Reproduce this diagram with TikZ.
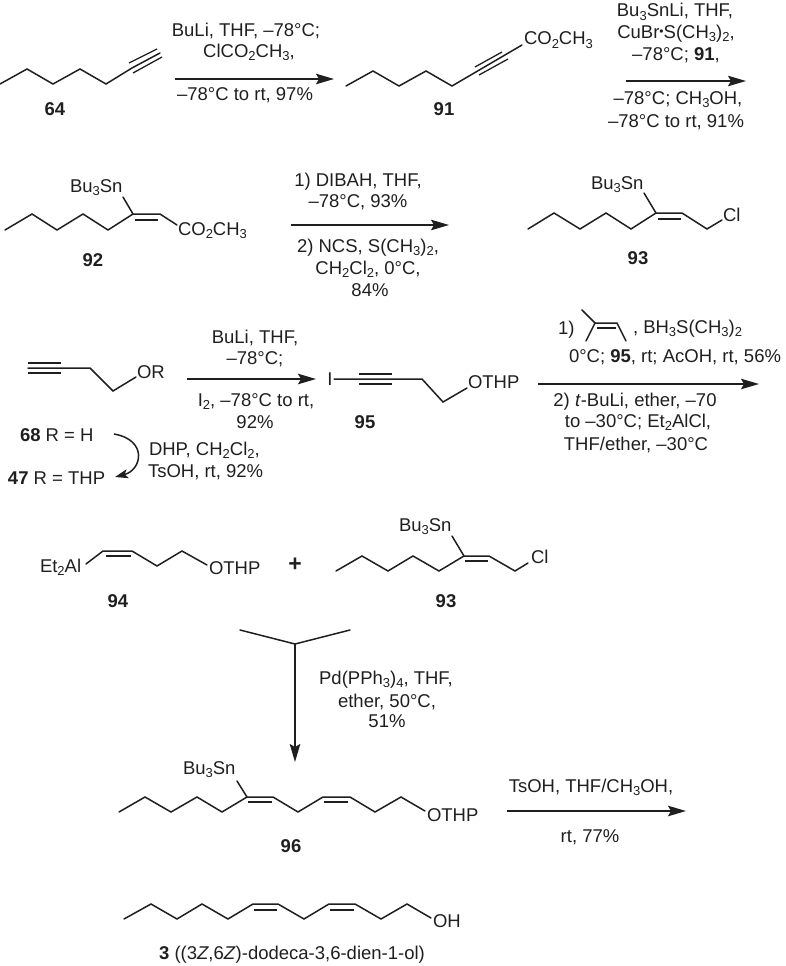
\documentclass[tikz,border=0pt]{standalone}
\usepackage{fontspec}
\setmainfont{Liberation Sans}
\usetikzlibrary{arrows.meta}
\newcommand{\dn}[1]{\raisebox{-0.32ex}{\fontsize{13}{14}\selectfont #1}}
\colorlet{ink}{black!88}
\tikzset{
  bond/.style={draw=ink,line width=1.5pt,line join=miter,line cap=round},
  thin bond/.style={draw=ink,line width=1.3pt,line cap=butt},
  rxn/.style={draw=ink,line width=1.6pt,-{Stealth[length=18pt,width=10.5pt,inset=3pt]}},
  curly/.style={draw=ink,line width=1.5pt,-{Stealth[length=13pt,width=9pt,inset=3pt]}},
  txt/.style={text=ink,inner sep=0pt,outer sep=0pt,font=\fontsize{18.5}{20}\selectfont},
  ctxt/.style={txt,anchor=base},
  ltxt/.style={txt,anchor=base west},
}
\begin{document}
\begin{tikzpicture}[x=1pt,y=-1pt]
\useasboundingbox (0,0) rectangle (785,966);
% ---- 64
\draw[bond] (0,84)--(27,69)--(53,84)--(80,69)--(106,84)--(132,68)--(160,53);
\draw[thin bond] (129,63)--(157,49) (133,73)--(162,57);
\node[ctxt] (n64) at (55,115) {\textbf{64}};
% ---- arrow 1
\coordinate (a1s) at (175,79); \coordinate (a1e) at (334,79);
\draw[rxn] (a1s)--(a1e);
\node[ctxt] (t1a) at (246,37) {BuLi, THF, –78°C;};
\node[ctxt] (t1b) at (249,57) {ClCO\dn{2}CH\dn{3},};
\node[ctxt] (t1c) at (245,100) {–78°C to rt, 97\%};
% ---- 91
\draw[bond] (346,86)--(373,71)--(399,86)--(426,71)--(452,86)--(522,45);
\draw[thin bond] (475,67)--(502,52) (479,75)--(508,59);
\node[ltxt] (co91) at (524,45) {CO\dn{2}CH\dn{3}};
\node[ctxt] (n91) at (444,115) {\textbf{91}};
% ---- arrow 2
\coordinate (a2s) at (626,81); \coordinate (a2e) at (746,81);
\draw[rxn] (a2s)--(a2e);
\node[ctxt] (t2a) at (675,17) {Bu\dn{3}SnLi, THF,};
\node[ctxt] (t2b) at (676,38) {CuBr\raisebox{0.25ex}{\fontsize{12}{13}\selectfont•}S(CH\dn{3})\dn{2},};
\node[ctxt] (t2c) at (676,61) {–78°C; \textbf{91},};
\node[ctxt] (t2d) at (678,104) {–78°C; CH\dn{3}OH,};
\node[ctxt] (t2e) at (676,127) {–78°C to rt, 91\%};
% ---- 92
\draw[bond] (5,230)--(32,214)--(57,230)--(83,214)--(108,230)--(133,214)--(160,214)--(177,225);
\draw[bond] (133,214)--(123,197);
\draw[thin bond] (135,220)--(158,220);
\node[ltxt] (sn92) at (70,192) {Bu\dn{3}Sn};
\node[ltxt] (co92) at (178,235) {CO\dn{2}CH\dn{3}};
\node[ctxt] (n92) at (93,266) {\textbf{92}};
% ---- arrow 3
\coordinate (a3s) at (291,225); \coordinate (a3e) at (449,225);
\draw[rxn] (a3s)--(a3e);
\node[ctxt] (t3a) at (358,186) {1) DIBAH, THF,};
\node[ctxt] (t3b) at (358,207) {–78°C, 93\%};
\node[ctxt] (t3c) at (368,252) {2) NCS, S(CH\dn{3})\dn{2},};
\node[ctxt] (t3d) at (368,274) {CH\dn{2}Cl\dn{2}, 0°C,};
\node[ctxt] (t3e) at (370,296) {84\%};
% ---- 93 (top)
\draw[bond] (528,229)--(554,213)--(580,229)--(606,213)--(631,229)--(656,213)--(682,213)--(707,229)--(722,220);
\draw[bond] (656,213)--(644,193);
\draw[thin bond] (658,219)--(681,219);
\node[ltxt] (sn93) at (591,189) {Bu\dn{3}Sn};
\node[ltxt] (cl93) at (723,221) {Cl};
\node[ctxt] (n93) at (638,264) {\textbf{93}};
% ---- 68/47
\draw[bond] (28,368)--(61,368)--(90,368)--(113,391)--(136,377);
\draw[thin bond] (28,363)--(61,363) (28,373)--(61,373);
\node[ltxt] (or68) at (137,378) {OR};
\node[ltxt] (n68) at (20,441) {\textbf{68} R = H};
\node[ltxt] (n47) at (8,484) {\textbf{47} R = THP};
\coordinate (c1) at (114,434); \coordinate (c2) at (115,477);
\draw[curly] (c1) .. controls (148,440) and (142,470) .. (c2);
\node[ltxt] (t5a) at (149,455) {DHP, CH\dn{2}Cl\dn{2},};
\node[ltxt] (t5b) at (148,477) {TsOH, rt, 92\%};
% ---- arrow 4
\coordinate (a4s) at (187,379); \coordinate (a4e) at (316,379);
\draw[rxn] (a4s)--(a4e);
\node[ctxt] (t4a) at (255,343) {BuLi, THF,};
\node[ctxt] (t4b) at (255,364) {–78°C;};
\node[ctxt] (t4c) at (256,406) {I\dn{2}, –78°C to rt,};
\node[ctxt] (t4d) at (255,428) {92\%};
% ---- 95
\node[ctxt] (i95) at (330,385) {I};
\draw[bond] (334,379)--(422,379)--(443,402)--(467,388);
\draw[thin bond] (359,374)--(392,374) (359,384)--(392,384);
\node[ltxt] (o95) at (468,388) {OTHP};
\node[ctxt] (n95) at (365,428) {\textbf{95}};
% ---- arrow 5
\coordinate (a5s) at (538,384); \coordinate (a5e) at (759,384);
\draw[rxn] (a5s)--(a5e);
\node[ltxt] (t6a) at (558,334) {1)};
\draw[bond] (582,310)--(595,323)--(617,323)--(626,341);
\draw[bond] (595,323)--(586,341);
\draw[thin bond] (597,328)--(616,328);
\node[ltxt] (t6b) at (633,333) {, BH\dn{3}S(CH\dn{3})\dn{2}};
\node[ctxt] (t6c) at (675,362) {0°C; \textbf{95}, rt; AcOH, rt, 56\%};
\node[ctxt] (t6d) at (635,406) {2) \textit{t}-BuLi, ether, –70};
\node[ctxt] (t6e) at (638,427) {to –30°C; Et\dn{2}AlCl,};
\node[ctxt] (t6f) at (636,450) {THF/ether, –30°C};
% ---- 94
\node[ltxt] (al94) at (40,572) {Et\dn{2}Al};
\draw[bond] (86,564)--(103,551)--(132,551)--(157,566)--(182,551)--(207,565);
\draw[thin bond] (106,556)--(131,556);
\node[ltxt] (o94) at (209,574) {OTHP};
\node[ctxt] (n94) at (118,607) {\textbf{94}};
\node[ctxt,font=\fontsize{23}{23}\selectfont\bfseries] (plus) at (295,571) {+};
% ---- 93 (middle)
\draw[bond] (336,571)--(362,556)--(388,571)--(413,556)--(439,571)--(464,556)--(489,556)--(515,571)--(528,563);
\draw[bond] (464,556)--(452,536);
\draw[thin bond] (465,561)--(488,561);
\node[ltxt] (sn93b) at (399,531) {Bu\dn{3}Sn};
\node[ltxt] (cl93b) at (531,563) {Cl};
\node[ctxt] (n93b) at (446,607) {\textbf{93}};
% ---- merging arrow
\coordinate (m1) at (240,630); \coordinate (m2) at (350,630);
\coordinate (mj) at (295,644); \coordinate (me) at (295,762);
\draw[bond] (m1)--(mj)--(m2);
\draw[rxn] (mj)--(me);
\node[ctxt] (t7a) at (386,684) {Pd(PPh\dn{3})\dn{4}, THF,};
\node[ctxt] (t7b) at (387,707) {ether, 50°C,};
\node[ctxt] (t7c) at (387,727) {51\%};
% ---- 96
\draw[bond] (119,812)--(145,797)--(171,812)--(197,797)--(222,812)--(247,797)--(273,797)--(298,812)--(323,797)--(350,797)--(375,812)--(401,797)--(425,811);
\draw[bond] (247,797)--(237,781);
\draw[thin bond] (248,802)--(272,802) (324,802)--(348,802);
\node[ltxt] (sn96) at (183,774) {Bu\dn{3}Sn};
\node[ltxt] (o96) at (427,821) {OTHP};
\node[ctxt] (n96) at (291,852) {\textbf{96}};
% ---- arrow 6
\coordinate (a6s) at (507,811); \coordinate (a6e) at (686,811);
\draw[rxn] (a6s)--(a6e);
\node[ctxt] (t8a) at (591,792) {TsOH, THF/CH\dn{3}OH,};
\node[ctxt] (t8b) at (590,842) {rt, 77\%};
% ---- 3
\draw[bond] (124,919)--(151,904)--(177,919)--(202,904)--(228,919)--(253,904)--(278,904)--(304,919)--(329,904)--(355,904)--(381,919)--(407,904)--(431,918);
\draw[thin bond] (254,910)--(277,910) (330,910)--(354,910);
\node[ltxt] (oh3) at (433,927) {OH};
\node[ctxt] (n3) at (292,959) {\textbf{3} ((3\textit{Z},6\textit{Z})-dodeca-3,6-dien-1-ol)};
\end{tikzpicture}
\end{document}
